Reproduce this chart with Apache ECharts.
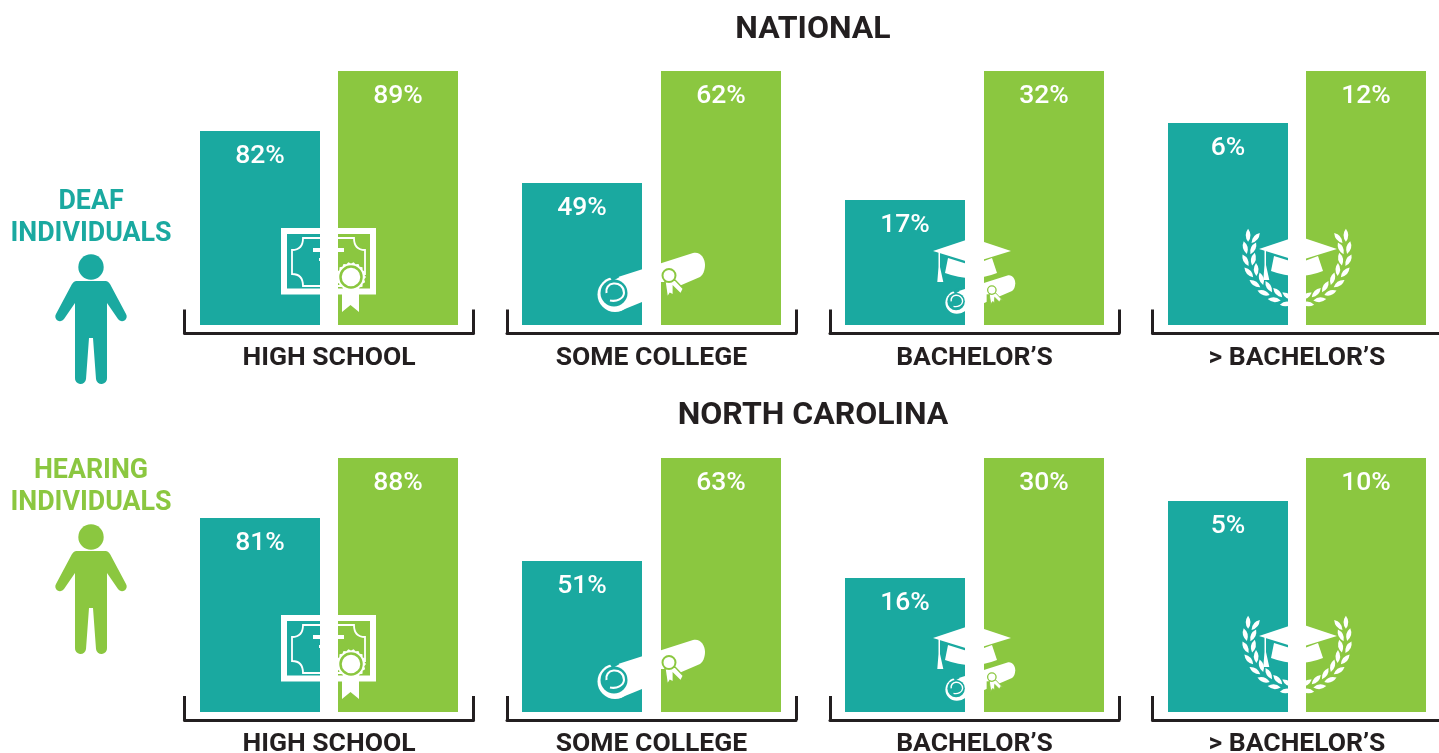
<!DOCTYPE html>
<html>
<head>
<meta charset="utf-8">
<style>html,body{margin:0;padding:0;background:#fff}#c{width:1439px;height:753px}</style>
<script src="https://cdn.jsdelivr.net/npm/echarts@6/dist/echarts.min.js"></script>
</head>
<body>
<div id="c"></div>
<script>
// ---- data ----
const categories = ['HIGH SCHOOL', 'SOME COLLEGE', "BACHELOR\u2019S", "> BACHELOR\u2019S"];
const regions = ['NATIONAL', 'NORTH CAROLINA'];
const groupNames = ['Deaf individuals', 'Hearing individuals'];
// printed percentages
const nationalDeafPct = [82, 49, 17, 6];
const nationalHearingPct = [89, 62, 32, 12];
const northCarolinaDeafPct = [81, 51, 16, 5];
const northCarolinaHearingPct = [88, 63, 30, 10];
// drawn bar heights: the reference is not to a common scale, each panel's taller bar = 100
const nationalDeafDrawn = [76.4, 55.9, 49.2, 79.5];
const nationalHearingDrawn = [100, 100, 100, 100];
const northCarolinaDeafDrawn = [76.4, 59.4, 52.8, 83.1];
const northCarolinaHearingDrawn = [100, 100, 100, 100];

// ---- style ----
const TEAL = '#1aa9a0', GREEN = '#8bc740', WHITE = '#ffffff', INK = '#231f20';
const FONT = 'Roboto';
const panelLeft = [184.5, 507, 830, 1152.5];
const panelGap = ['15%', '15.83%', '15.83%', '15%'];
const rowTop = [71, 458];
const ROW_DY = 387;

const rows = [
  { pctA: nationalDeafPct, pctB: nationalHearingPct, hA: nationalDeafDrawn, hB: nationalHearingDrawn },
  { pctA: northCarolinaDeafPct, pctB: northCarolinaHearingPct, hA: northCarolinaDeafDrawn, hB: northCarolinaHearingDrawn }
];

const grids = [], xAxes = [], yAxes = [], series = [];
rows.forEach((row, r) => {
  categories.forEach((cat, c) => {
    const idx = grids.length;
    grids.push({ left: panelLeft[c], width: 289, top: rowTop[r], height: 254, outerBoundsMode: 'none' });
    xAxes.push({
      gridIndex: idx, type: 'category', data: [cat], offset: r === 0 ? 8.5 : 8,
      axisLine: { show: true, onZero: false, lineStyle: { color: INK, width: 3 } },
      axisTick: { show: true, inside: true, length: 24, lineStyle: { color: INK, width: 3 } },
      axisLabel: { color: INK, fontFamily: FONT, fontWeight: 700, fontSize: 26.5, margin: r === 0 ? 11.5 : 10.5 }
    });
    yAxes.push({ gridIndex: idx, type: 'value', min: 0, max: 100, show: false });
    [[row.hA, row.pctA, TEAL, groupNames[0]], [row.hB, row.pctB, GREEN, groupNames[1]]].forEach(([h, pct, col, name]) => {
      series.push({
        type: 'bar', name, xAxisIndex: idx, yAxisIndex: idx, barWidth: 120, barGap: panelGap[c],
        itemStyle: { color: col }, silent: true,
        label: {
          show: true, position: 'insideTop', distance: 11.5, color: WHITE,
          fontFamily: FONT, fontWeight: 500, fontSize: 26.5, formatter: pct[c] + '%'
        },
        data: [h[c]]
      });
    });
  });
});

// ---- pictograms (decoration, white on the bars) ----
const P = (d, fill, stroke, lw) => ({ type: 'path', shape: { pathData: d }, style: { fill: fill || WHITE, stroke: stroke || null, lineWidth: lw || 0 } });
const R = (x, y, w, h, fill) => ({ type: 'rect', shape: { x, y, width: w, height: h }, style: { fill: fill || WHITE } });
const C = (cx, cy, rad, fill, stroke, lw) => ({ type: 'circle', shape: { cx, cy, r: rad }, style: { fill, stroke: stroke || null, lineWidth: lw || 0 } });

function scallop(cx, cy, r1, r2, n) {
  let d = '';
  for (let i = 0; i < n * 2; i++) {
    const a = Math.PI * i / n, r = i % 2 ? r1 : r2;
    d += (i ? 'L' : 'M') + (cx + r * Math.cos(a)).toFixed(2) + ',' + (cy + r * Math.sin(a)).toFixed(2);
  }
  return d + 'Z';
}
function certificate() {
  return [
    { type: 'rect', shape: { x: 284, y: 231, width: 89, height: 60.5 }, style: { fill: 'none', stroke: WHITE, lineWidth: 6 } },
    P('M303,238L354,238Q354,250 365,250L365,274Q354,274 354,286L303,286Q303,274 292,274L292,250Q303,250 303,238Z', 'none', WHITE, 1.8),
    R(313, 248, 31, 4), R(319, 258, 19, 3),
    P(scallop(351, 277, 13.5, 15, 18), WHITE),
    C(351, 277, 10.5, WHITE, GREEN, 2.5),
    P('M342,294L359,294L359,312L350.5,305L342,312Z', WHITE)
  ];
}
function scroll() {
  return [
    C(615, 294.5, 17.5, WHITE),
    P('M618,277L693,253C700,251 705,258 705,265C705,270 703,275 700,277L642,302L620,311Z', WHITE),
    C(614, 293, 13.5, TEAL),
    P('M611,279L618,275', 'none', TEAL, 5),
    P('M610,300.5C617,302 623.5,298.5 624,293C624,286.5 619,283 613.5,283.5C608.5,284 605.5,288 606.5,293', 'none', WHITE, 2.1),
    P('M661,282L668,282L668,302L661,302Z', GREEN),
    P('M665,281.7L667.3,297.7L670,293.3L673.3,295L673.3,286.7L680.7,294L682.7,290L686.7,292.3L675,280Z', WHITE, GREEN, 1.4),
    C(669, 275.5, 6.5, WHITE, GREEN, 2)
  ];
}
function cap() {
  return [
    P('M933,251L972,238L1011,251L972,263Z', WHITE),
    P('M948,258L972,265.5L992,258L997,273Q972,283 945,273Z', WHITE),
    P('M938.5,252L940,252.5L940,267L943.3,282L937.3,282L938.5,267Z', WHITE)
  ];
}
function laurel(cx, cy) {
  const out = [];
  const leaf = (x, y, deg) => {
    const a = deg * Math.PI / 180, s = Math.sin(a), k = Math.cos(a), L = 6.5, W = 4.8;
    const p = (u, v) => (x + u * k - v * s).toFixed(1) + ',' + (y + u * s + v * k).toFixed(1);
    return P('M' + p(-L, 0) + 'Q' + p(0, -W) + ' ' + p(L, 0) + 'Q' + p(0, W) + ' ' + p(-L, 0) + 'Z', WHITE);
  };
  [-1, 1].forEach(side => {
    for (let t = 12; t <= 118; t += 14) {
      const a = t * Math.PI / 180;
      [[52, -20], [44, 20]].forEach(([rad, splay]) => {
        const x = cx + side * rad * Math.sin(a), y = cy + rad * Math.cos(a);
        const angle = side < 0 ? (t + splay) : (180 - t - splay);
        out.push(leaf(x, y, angle));
      });
    }
  });
  return out;
}
const PERSON = 'M76,281L106,281Q108,281 110,284L126,314A4.5,4.5 0 0 1 118,319L107,303L107,378A5.5,5.5 0 0 1 96,379L93,338L89,338L86,379A5.5,5.5 0 0 1 75,378L75,303L64,319A4.5,4.5 0 0 1 56,314L72,284Q74,281 76,281Z';

function iconGroup(children, x, y, s) {
  return { type: 'group', x: x || 0, y: y || 0, scaleX: s || 1, scaleY: s || 1, children };
}
function rowIcons() {
  return [
    iconGroup(certificate()),
    iconGroup(scroll()),
    iconGroup(scroll(), 557, 111, 0.65),
    iconGroup(cap()),
    iconGroup(laurel(1297, 253)),
    iconGroup(cap(), 326, -2)
  ];
}
series.push({
  type: 'custom', coordinateSystem: 'none', data: [0], silent: true, z: 10, clip: false,
  renderItem: () => ({
    type: 'group',
    children: [
      iconGroup(rowIcons()),
      iconGroup(rowIcons(), 0, ROW_DY),
      iconGroup([C(91, 267, 12.7, TEAL), P(PERSON, TEAL)]),
      iconGroup([C(91, 267, 12.7, GREEN), P(PERSON, GREEN)], 0, 270)
    ]
  })
});

const sideStyle = (txt, col, y) => ({
  text: txt, left: 86, top: y, textAlign: 'center',
  textStyle: { color: col, fontFamily: FONT, fontWeight: 700, fontSize: 26.8, lineHeight: 32 }
});

const chart = echarts.init(document.getElementById('c'), null, { renderer: 'canvas', width: 1439, height: 753 });
chart.setOption({
  animation: false,
  backgroundColor: WHITE,
  title: [
    { text: regions[0], left: 808, top: 9, textAlign: 'center', textStyle: { color: INK, fontFamily: FONT, fontWeight: 700, fontSize: 32 } },
    { text: regions[1], left: 808, top: 395, textAlign: 'center', textStyle: { color: INK, fontFamily: FONT, fontWeight: 700, fontSize: 32 } },
    sideStyle('DEAF', TEAL, 181),
    sideStyle('INDIVIDUALS', TEAL, 213),
    sideStyle('HEARING', GREEN, 450),
    sideStyle('INDIVIDUALS', GREEN, 482)
  ],
  grid: grids, xAxis: xAxes, yAxis: yAxes, series
});
</script>
</body>
</html>
